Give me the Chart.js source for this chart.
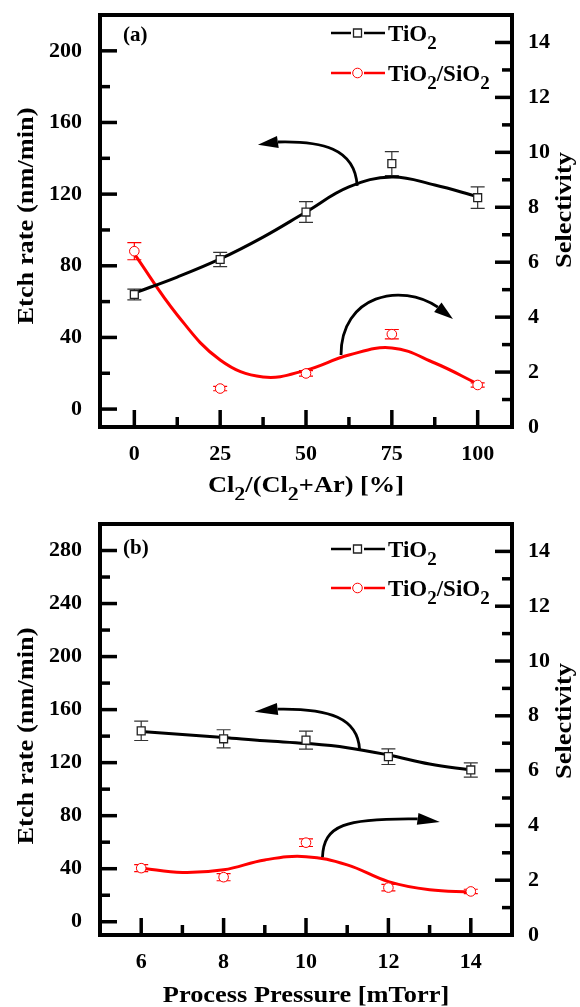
<!DOCTYPE html>
<html>
<head>
<meta charset="utf-8">
<script src="https://cdn.jsdelivr.net/npm/chart.js@4.4.1/dist/chart.umd.min.js"></script>
<style>
  html, body { margin: 0; padding: 0; background: #fff; }
  canvas { display: block; }
</style>
</head>
<body>
<canvas id="chartA" width="580" height="500"></canvas>
<canvas id="chartB" width="580" height="507"></canvas>
<script>
// (a) etch vs Cl2 fraction
const clRatio = [0, 25, 50, 75, 100];
const etchA = [64, 83.5, 110, 137, 118];
const etchErrA = [3, 4, 5.8, 6.7, 6];
const selA = [6.4, 1.4, 1.95, 3.38, 1.53];
const selErrA = [0.31, 0.08, 0.1, 0.17, 0.08];
// fitted curves
const fitXA = [0, 12.5, 25, 37.5, 50, 62.5, 75, 87.5, 100];
const etchFitA = [64.8, 73.7, 83.8, 96, 110, 124, 129.6, 125.1, 118.6];
const selFitA = [6.3, 4.08, 2.44, 1.82, 2.07, 2.62, 2.88, 2.33, 1.57];

// (b) etch vs process pressure
const pressure = [6, 8, 10, 12, 14];
const etchB = [144, 138, 137, 124.5, 114.5];
const etchErrB = [7.3, 6.8, 6.8, 5.9, 5.4];
const selB = [2.44, 2.11, 3.37, 1.73, 1.59];
const selErrB = [0.13, 0.13, 0.14, 0.12, 0.08];
const fitXB = [6, 7, 8, 9, 10, 11, 12, 13, 14];
const etchFitB = [143.5, 141.3, 139, 136.5, 134.5, 131.3, 125.8, 119, 114.5];
const selFitB = [2.44, 2.28, 2.38, 2.74, 2.86, 2.56, 1.95, 1.65, 1.57];

// tick labels
const xTicksA = [0, 25, 50, 75, 100];
const xTicksB = [6, 8, 10, 12, 14];
const etchTicksA = [0, 40, 80, 120, 160, 200];
const etchTicksB = [0, 40, 80, 120, 160, 200, 240, 280];
const selTicks = [0, 2, 4, 6, 8, 10, 12, 14];

const SERIF = "'Liberation Serif', 'Times New Roman', serif";
const font = size => `bold ${size}px ${SERIF}`;
const mids = arr => arr.slice(1).map((v, i) => (v + arr[i]) / 2);
const pts = (xs, ys) => xs.map((x, i) => ({ x, y: ys[i] }));

// text with subscripts: parts = [[text, isSub], ...]
function drawRich(ctx, parts, x, y, size, stretch, align) {
  const sub = Math.round(size * 0.82);
  let w = 0;
  parts.forEach(([t, s]) => { ctx.font = font(s ? sub : size); w += ctx.measureText(t).width; });
  ctx.save();
  ctx.translate(align === 'left' ? x : x - w * stretch / 2, y);
  ctx.scale(stretch, 1);
  let cx = 0;
  parts.forEach(([t, s]) => {
    ctx.font = font(s ? sub : size);
    ctx.fillText(t, cx, s ? size * 0.36 : 0);
    cx += ctx.measureText(t).width;
  });
  ctx.restore();
}

function drawArrow(ctx, xs, ys, path) {
  const p = path.map(([x, y]) => [xs.getPixelForValue(x), ys.getPixelForValue(y)]);
  ctx.beginPath();
  ctx.moveTo(p[0][0], p[0][1]);
  ctx.bezierCurveTo(p[1][0], p[1][1], p[2][0], p[2][1], p[3][0], p[3][1]);
  ctx.stroke();
  const [bx, by] = p[3], [tx, ty] = p[4];
  const ang = Math.atan2(ty - by, tx - bx);
  const hw = 6;
  ctx.beginPath();
  ctx.moveTo(tx, ty);
  ctx.lineTo(bx + hw * Math.sin(ang), by - hw * Math.cos(ang));
  ctx.lineTo(bx - hw * Math.sin(ang), by + hw * Math.cos(ang));
  ctx.closePath();
  ctx.fill();
}

function makeDeco(d) {
  return {
    id: 'deco',
    beforeDatasetsDraw(chart) {
      const ctx = chart.ctx;
      chart.data.datasets.forEach(ds => {
        if (!ds.errors) return;
        const xs = chart.scales.x, ys = chart.scales[ds.yAxisID];
        ctx.save();
        ctx.strokeStyle = ds.errColor;
        ctx.lineWidth = 1.2;
        ds.data.forEach((p, i) => {
          const px = xs.getPixelForValue(p.x);
          const t = ys.getPixelForValue(p.y + ds.errors[i]);
          const b = ys.getPixelForValue(p.y - ds.errors[i]);
          ctx.beginPath();
          ctx.moveTo(px, t); ctx.lineTo(px, b);
          ctx.moveTo(px - 7, t); ctx.lineTo(px + 7, t);
          ctx.moveTo(px - 7, b); ctx.lineTo(px + 7, b);
          ctx.stroke();
        });
        ctx.restore();
      });
    },
    afterDatasetsDraw(chart) {
      const ctx = chart.ctx;
      ctx.save();
      ctx.strokeStyle = '#000';
      ctx.fillStyle = '#000';
      ctx.lineWidth = 2.8;
      d.arrows.forEach(path => drawArrow(ctx, chart.scales.x, chart.scales.y, path));
      ctx.restore();
    },
    afterDraw(chart) {
      const { ctx, chartArea: a, scales } = chart;
      ctx.save();
      // frame
      ctx.strokeStyle = '#000';
      ctx.lineWidth = 4;
      ctx.strokeRect(a.left, a.top, a.right - a.left, a.bottom - a.top);
      // inward ticks
      ctx.lineWidth = 3.5;
      const line = (x1, y1, x2, y2) => { ctx.beginPath(); ctx.moveTo(x1, y1); ctx.lineTo(x2, y2); ctx.stroke(); };
      d.xTicks.forEach(v => { const p = scales.x.getPixelForValue(v); line(p, a.bottom, p, a.bottom - 17); });
      mids(d.xTicks).forEach(v => { const p = scales.x.getPixelForValue(v); line(p, a.bottom, p, a.bottom - 10); });
      d.yTicks.forEach(v => { const p = scales.y.getPixelForValue(v); line(a.left, p, a.left + 17, p); });
      mids(d.yTicks).forEach(v => { const p = scales.y.getPixelForValue(v); line(a.left, p, a.left + 10, p); });
      selTicks.forEach(v => { const p = scales.y1.getPixelForValue(v); line(a.right, p, a.right - 17, p); });
      mids(selTicks).forEach(v => { const p = scales.y1.getPixelForValue(v); line(a.right, p, a.right - 10, p); });

      // axis titles
      ctx.fillStyle = '#000';
      ctx.textBaseline = 'alphabetic';
      drawRich(ctx, d.xTitle, (a.left + a.right) / 2, d.xTitleY, 24, 1.1);
      ctx.save();
      ctx.translate(33, d.leftTitleY);
      ctx.rotate(-Math.PI / 2);
      drawRich(ctx, [['Etch rate (nm/min)']], 0, 0, 24, 1.1);
      ctx.restore();
      ctx.save();
      ctx.translate(571, d.rightTitleY);
      ctx.rotate(-Math.PI / 2);
      drawRich(ctx, [['Selectivity']], 0, 0, 24, 1.1);
      ctx.restore();

      // panel label
      ctx.font = font(21);
      ctx.fillText(d.panel, 123, d.panelY);

      // legend
      const rows = [
        { y: d.legendY[0], color: '#000', marker: 'rect', parts: [['TiO'], ['2', 1]] },
        { y: d.legendY[1], color: '#ff0000', marker: 'circle', parts: [['TiO'], ['2', 1], ['/SiO'], ['2', 1]] }
      ];
      rows.forEach(r => {
        ctx.strokeStyle = r.color;
        ctx.lineWidth = 2.5;
        line(331, r.y, 351, r.y);
        line(364, r.y, 385, r.y);
        ctx.fillStyle = '#fff';
        ctx.lineWidth = r.marker === 'rect' ? 1.3 : 1;
        ctx.strokeStyle = r.marker === 'rect' ? '#222' : '#ff0000';
        ctx.beginPath();
        if (r.marker === 'rect') ctx.rect(353.5, r.y - 4, 8, 8);
        else ctx.arc(357.5, r.y, 4.8, 0, Math.PI * 2);
        ctx.fill();
        ctx.stroke();
        ctx.fillStyle = '#000';
        drawRich(ctx, r.parts, 388, r.y + 8, 23, 1, 'left');
      });
      ctx.restore();
    }
  };
}

function makePanel(id, p) {
  const tickFont = { family: SERIF, size: 22, weight: 'bold' };
  new Chart(document.getElementById(id), {
    type: 'line',
    data: {
      datasets: [
        {
          data: pts(p.x, p.etch), yAxisID: 'y', showLine: false, order: 0,
          pointStyle: 'rect', pointRadius: 5.6, pointBackgroundColor: '#fff',
          pointBorderColor: '#222', pointBorderWidth: 1.3,
          errors: p.etchErr, errColor: '#333'
        },
        {
          data: pts(p.x, p.sel), yAxisID: 'y1', showLine: false, order: 0,
          pointStyle: 'circle', pointRadius: 4.8, pointBackgroundColor: '#fff',
          pointBorderColor: '#ff0000', pointBorderWidth: 1,
          errors: p.selErr, errColor: '#ff0000'
        },
        {
          data: pts(p.fitX, p.etchFit), yAxisID: 'y', order: 1,
          borderColor: '#000', borderWidth: 3, pointRadius: 0, tension: 0.4
        },
        {
          data: pts(p.fitX, p.selFit), yAxisID: 'y1', order: 1,
          borderColor: '#ff0000', borderWidth: 3, pointRadius: 0, tension: 0.4
        }
      ]
    },
    options: {
      responsive: false,
      animation: false,
      layout: { padding: { top: p.top }, autoPadding: false },
      plugins: { legend: { display: false }, tooltip: { enabled: false } },
      scales: {
        x: {
          type: 'linear', position: 'bottom', min: p.xMin, max: p.xMax,
          grid: { display: false, drawTicks: false }, border: { display: false },
          ticks: { font: tickFont, color: '#000', padding: 14, autoSkip: false, maxRotation: 0 },
          afterBuildTicks: s => { s.ticks = p.xTicks.map(v => ({ value: v })); },
          afterFit: s => { s.height = p.xHeight; s.paddingLeft = 0; s.paddingRight = 0; }
        },
        y: {
          type: 'linear', position: 'left', min: p.yMin, max: p.yMax,
          grid: { display: false, drawTicks: false }, border: { display: false },
          ticks: { font: tickFont, color: '#000', padding: 18, autoSkip: false },
          afterBuildTicks: s => { s.ticks = p.yTicks.map(v => ({ value: v })); },
          afterFit: s => { s.width = 100; s.paddingTop = 0; s.paddingBottom = 0; }
        },
        y1: {
          type: 'linear', position: 'right', min: 0, max: 15,
          grid: { display: false, drawTicks: false }, border: { display: false },
          ticks: { font: tickFont, color: '#000', padding: 16, autoSkip: false },
          afterBuildTicks: s => { s.ticks = selTicks.map(v => ({ value: v })); },
          afterFit: s => { s.width = 68; s.paddingTop = 0; s.paddingBottom = 0; }
        }
      }
    },
    plugins: [makeDeco(p.deco)]
  });
}

makePanel('chartA', {
  x: clRatio, etch: etchA, etchErr: etchErrA, sel: selA, selErr: selErrA,
  fitX: fitXA, etchFit: etchFitA, selFit: selFitA,
  xMin: -10, xMax: 110, yMin: -10, yMax: 220,
  xTicks: xTicksA, yTicks: etchTicksA, top: 15, xHeight: 73,
  deco: {
    xTicks: xTicksA, yTicks: etchTicksA,
    xTitle: [['Cl'], ['2', 1], ['/(Cl'], ['2', 1], ['+Ar) [%]']],
    xTitleY: 492, leftTitleY: 216, rightTitleY: 210,
    panel: '(a)', panelY: 41, legendY: [33, 73],
    arrows: [
      [[64.9, 124.6], [64.3, 145.8], [54.4, 149.7], [41.8, 149.1], [36.0, 147.5]],
      [[60.2, 30.2], [60.2, 63.7], [77.7, 70.9], [88.4, 56.9], [92.8, 50.3]]
    ]
  }
});

makePanel('chartB', {
  x: pressure, etch: etchB, etchErr: etchErrB, sel: selB, selErr: selErrB,
  fitX: fitXB, etchFit: etchFitB, selFit: selFitB,
  xMin: 5, xMax: 15, yMin: -10, yMax: 300,
  xTicks: xTicksB, yTicks: etchTicksB, top: 24, xHeight: 72,
  deco: {
    xTicks: xTicksB, yTicks: etchTicksB,
    xTitle: [['Process Pressure [mTorr]']],
    xTitleY: 502, leftTitleY: 236, rightTitleY: 221,
    panel: '(b)', panelY: 54, legendY: [49, 88],
    arrows: [
      [[11.3, 130], [11.26, 153.6], [10.58, 161.1], [9.31, 160.4], [8.75, 158.4]],
      [[10.4, 48.7], [10.43, 73], [10.94, 78.3], [12.71, 77.6], [13.25, 75.3]]
    ]
  }
});
</script>
</body>
</html>
